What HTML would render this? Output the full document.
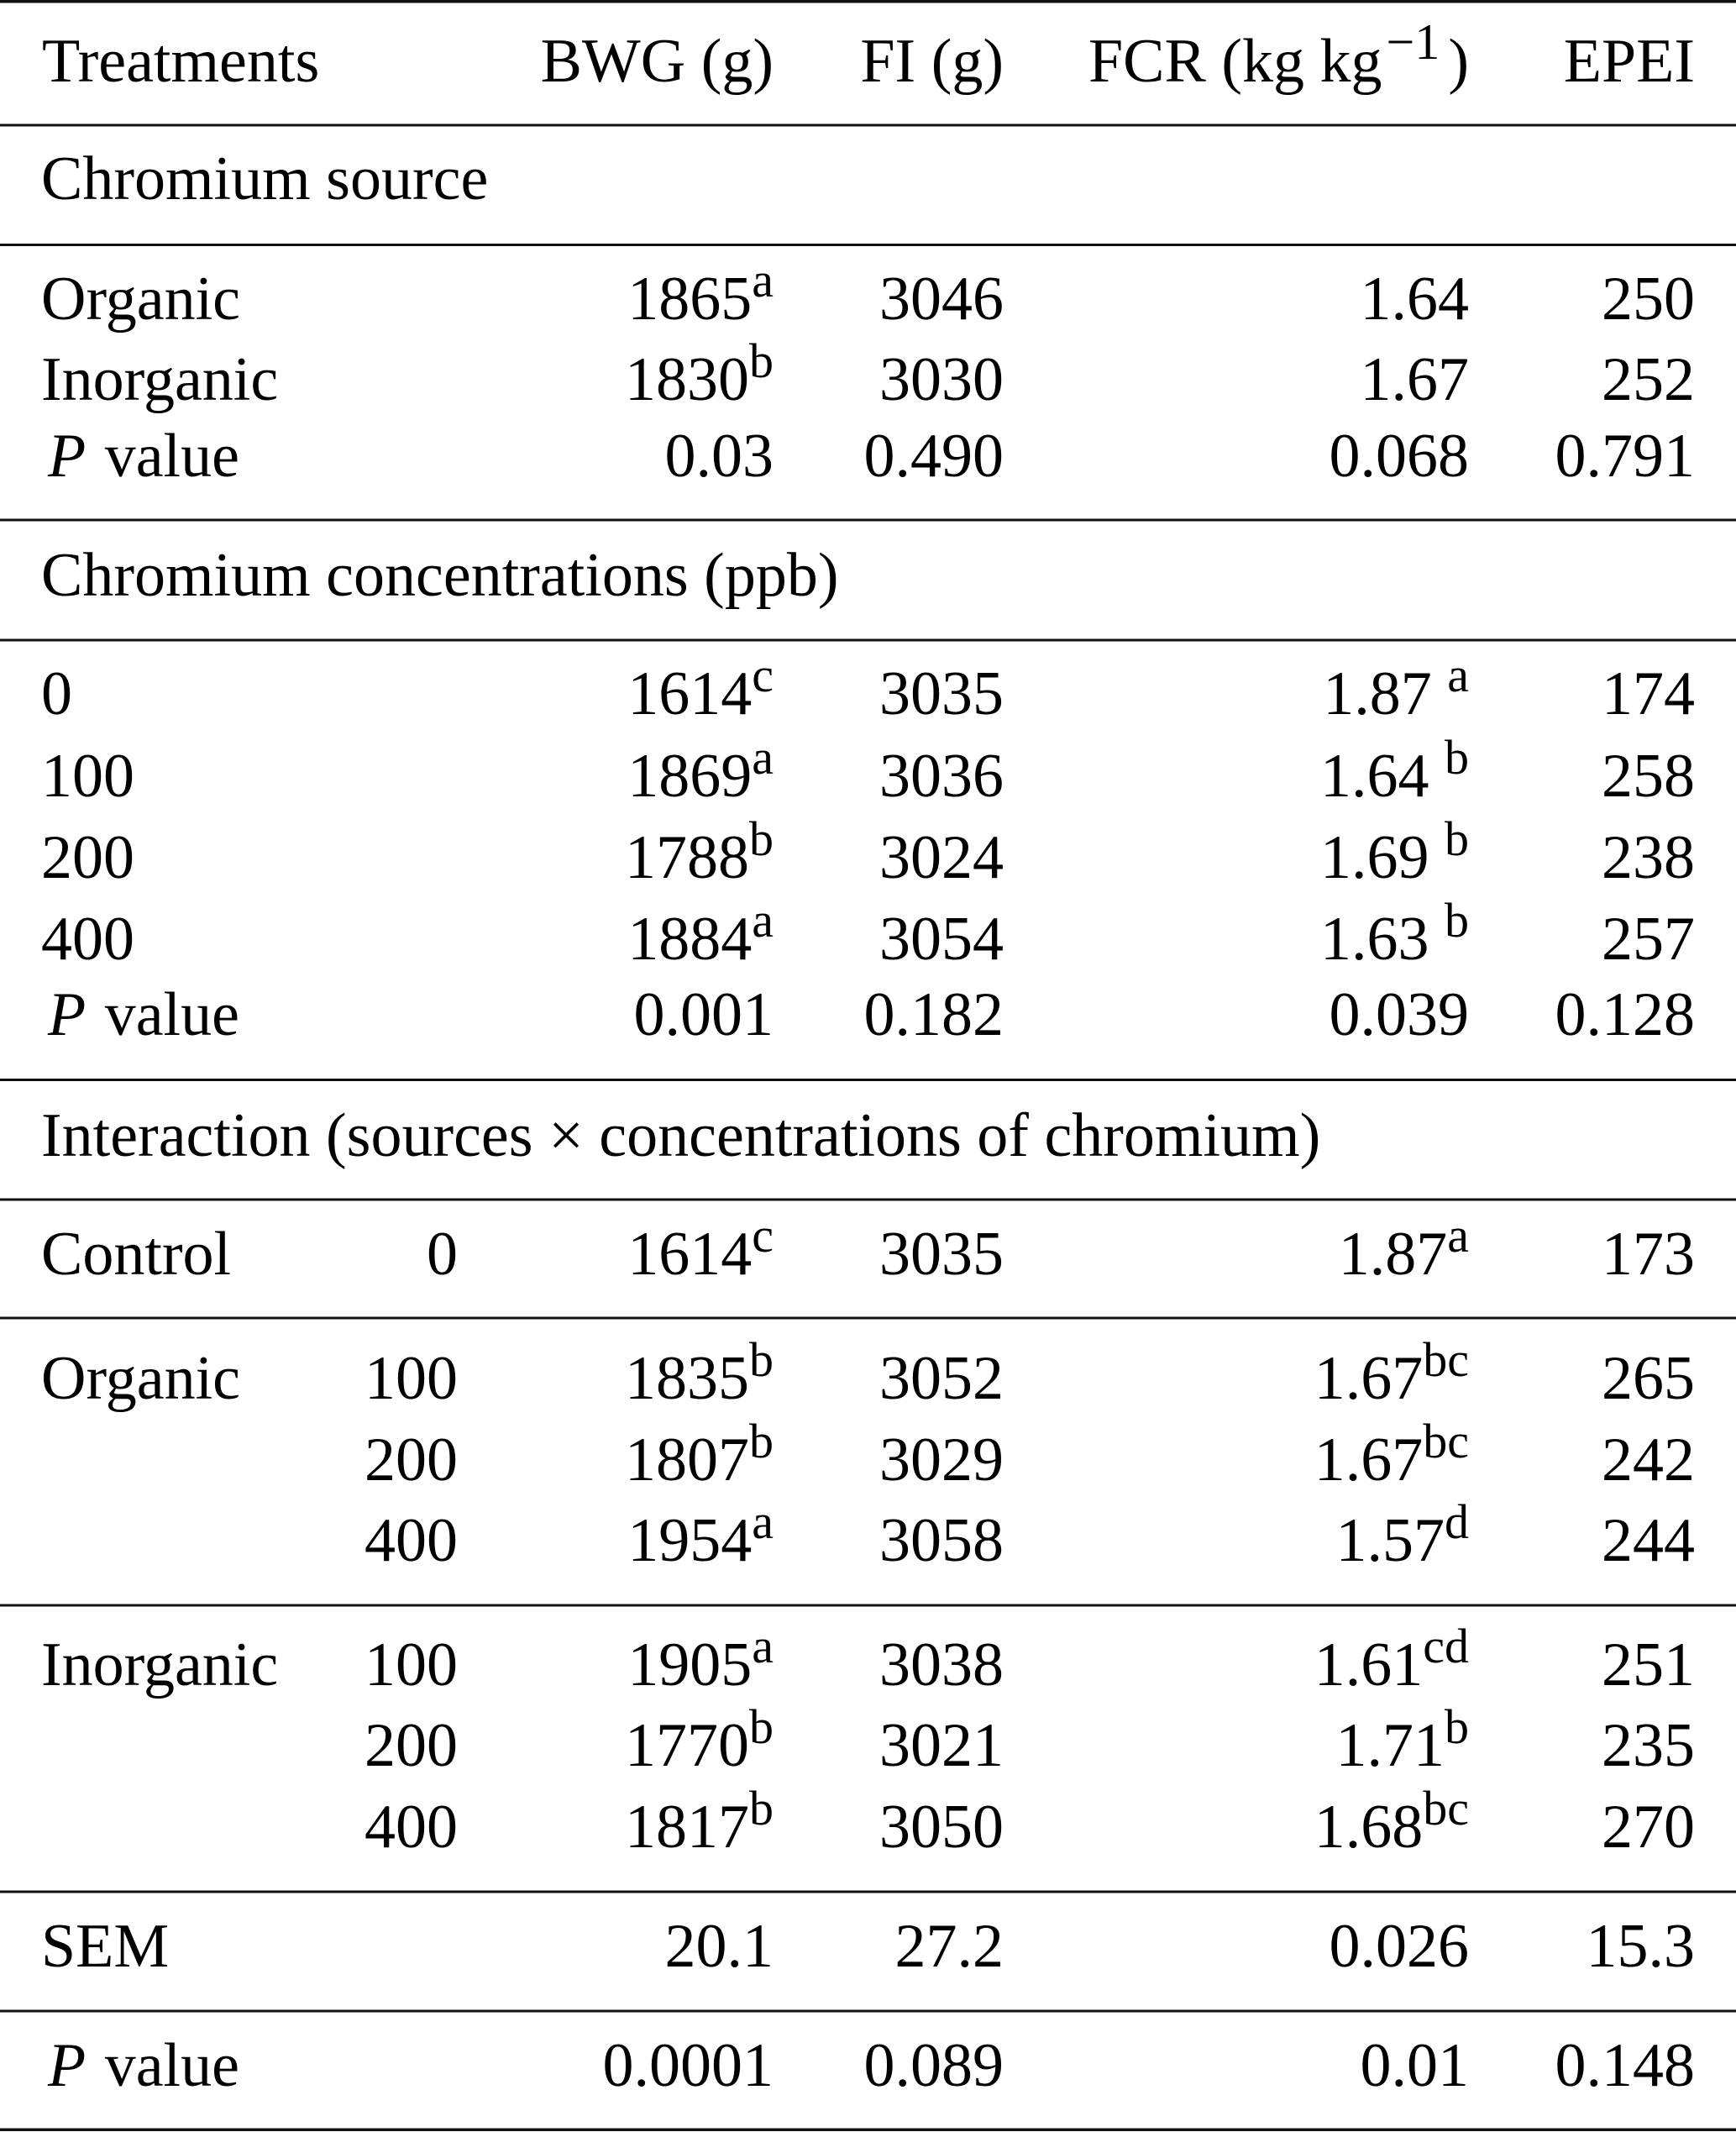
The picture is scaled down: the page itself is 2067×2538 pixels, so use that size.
<!DOCTYPE html>
<html>
<head>
<meta charset="utf-8">
<style>
html,body{margin:0;padding:0;background:#fff;}
svg{display:block;}
text{font-family:"Liberation Serif","Times New Roman",serif;font-size:74px;fill:#000;}
.r{text-anchor:end;}
</style>
</head>
<body>
<svg width="2067" height="2538" viewBox="0 0 2067 2538" xmlns="http://www.w3.org/2000/svg">
<rect x="0" y="0" width="2067" height="2538" fill="#fff"/>
<!-- rules -->
<g fill="#111">
<rect x="0" y="0" width="2067" height="3.5"/>
<rect x="0" y="147.5" width="2067" height="3"/>
<rect x="0" y="290" width="2067" height="3"/>
<rect x="0" y="617.5" width="2067" height="3"/>
<rect x="0" y="760.5" width="2067" height="3"/>
<rect x="0" y="1284" width="2067" height="3"/>
<rect x="0" y="1426.5" width="2067" height="3"/>
<rect x="0" y="1567.5" width="2067" height="3"/>
<rect x="0" y="1909.5" width="2067" height="3"/>
<rect x="0" y="2250.5" width="2067" height="3"/>
<rect x="0" y="2392.5" width="2067" height="3"/>
<rect x="0" y="2533.5" width="2067" height="3.5"/>
</g>

<!-- header -->
<text x="50" y="97">Treatments</text>
<text class="r" x="921" y="97">BWG (g)</text>
<text class="r" x="1195" y="97">FI (g)</text>
<text class="r" x="1749" y="97">FCR (kg kg<tspan dx="5" dy="-27" font-size="60">−1</tspan><tspan dx="10" dy="27" font-size="74">)</tspan></text>
<text class="r" x="2018" y="97">EPEI</text>

<!-- Section 1 -->
<text x="49" y="237">Chromium source</text>

<text x="49" y="380">Organic</text>
<text class="r" x="921" y="380">1865<tspan dy="-27" font-size="58">a</tspan></text>
<text class="r" x="1195" y="380">3046</text>
<text class="r" x="1749" y="380">1.64</text>
<text class="r" x="2018" y="380">250</text>

<text x="49" y="476">Inorganic</text>
<text class="r" x="921" y="476">1830<tspan dy="-27" font-size="58">b</tspan></text>
<text class="r" x="1195" y="476">3030</text>
<text class="r" x="1749" y="476">1.67</text>
<text class="r" x="2018" y="476">252</text>

<text x="57" y="567"><tspan font-style="italic">P</tspan><tspan dx="4"> value</tspan></text>
<text class="r" x="921" y="567">0.03</text>
<text class="r" x="1195" y="567">0.490</text>
<text class="r" x="1749" y="567">0.068</text>
<text class="r" x="2018" y="567">0.791</text>

<!-- Section 2 -->
<text x="49" y="709">Chromium concentrations (ppb)</text>

<text x="49" y="850">0</text>
<text class="r" x="921" y="850">1614<tspan dy="-27" font-size="58">c</tspan></text>
<text class="r" x="1195" y="850">3035</text>
<text class="r" x="1749" y="850">1.87 <tspan dy="-27" font-size="58">a</tspan></text>
<text class="r" x="2018" y="850">174</text>

<text x="49" y="948">100</text>
<text class="r" x="921" y="948">1869<tspan dy="-27" font-size="58">a</tspan></text>
<text class="r" x="1195" y="948">3036</text>
<text class="r" x="1749" y="948">1.64 <tspan dy="-27" font-size="58">b</tspan></text>
<text class="r" x="2018" y="948">258</text>

<text x="49" y="1045">200</text>
<text class="r" x="921" y="1045">1788<tspan dy="-27" font-size="58">b</tspan></text>
<text class="r" x="1195" y="1045">3024</text>
<text class="r" x="1749" y="1045">1.69 <tspan dy="-27" font-size="58">b</tspan></text>
<text class="r" x="2018" y="1045">238</text>

<text x="49" y="1142">400</text>
<text class="r" x="921" y="1142">1884<tspan dy="-27" font-size="58">a</tspan></text>
<text class="r" x="1195" y="1142">3054</text>
<text class="r" x="1749" y="1142">1.63 <tspan dy="-27" font-size="58">b</tspan></text>
<text class="r" x="2018" y="1142">257</text>

<text x="57" y="1232"><tspan font-style="italic">P</tspan><tspan dx="4"> value</tspan></text>
<text class="r" x="921" y="1232">0.001</text>
<text class="r" x="1195" y="1232">0.182</text>
<text class="r" x="1749" y="1232">0.039</text>
<text class="r" x="2018" y="1232">0.128</text>

<!-- Section 3 -->
<text x="49" y="1376">Interaction (sources × concentrations of chromium)</text>

<text x="49" y="1517">Control</text>
<text class="r" x="545" y="1517">0</text>
<text class="r" x="921" y="1517">1614<tspan dy="-27" font-size="58">c</tspan></text>
<text class="r" x="1195" y="1517">3035</text>
<text class="r" x="1749" y="1517">1.87<tspan dy="-27" font-size="58">a</tspan></text>
<text class="r" x="2018" y="1517">173</text>

<text x="49" y="1665">Organic</text>
<text class="r" x="545" y="1665">100</text>
<text class="r" x="921" y="1665">1835<tspan dy="-27" font-size="58">b</tspan></text>
<text class="r" x="1195" y="1665">3052</text>
<text class="r" x="1749" y="1665">1.67<tspan dy="-27" font-size="58">bc</tspan></text>
<text class="r" x="2018" y="1665">265</text>

<text class="r" x="545" y="1762">200</text>
<text class="r" x="921" y="1762">1807<tspan dy="-27" font-size="58">b</tspan></text>
<text class="r" x="1195" y="1762">3029</text>
<text class="r" x="1749" y="1762">1.67<tspan dy="-27" font-size="58">bc</tspan></text>
<text class="r" x="2018" y="1762">242</text>

<text class="r" x="545" y="1858">400</text>
<text class="r" x="921" y="1858">1954<tspan dy="-27" font-size="58">a</tspan></text>
<text class="r" x="1195" y="1858">3058</text>
<text class="r" x="1749" y="1858">1.57<tspan dy="-27" font-size="58">d</tspan></text>
<text class="r" x="2018" y="1858">244</text>

<text x="49" y="2006">Inorganic</text>
<text class="r" x="545" y="2006">100</text>
<text class="r" x="921" y="2006">1905<tspan dy="-27" font-size="58">a</tspan></text>
<text class="r" x="1195" y="2006">3038</text>
<text class="r" x="1749" y="2006">1.61<tspan dy="-27" font-size="58">cd</tspan></text>
<text class="r" x="2018" y="2006">251</text>

<text class="r" x="545" y="2102">200</text>
<text class="r" x="921" y="2102">1770<tspan dy="-27" font-size="58">b</tspan></text>
<text class="r" x="1195" y="2102">3021</text>
<text class="r" x="1749" y="2102">1.71<tspan dy="-27" font-size="58">b</tspan></text>
<text class="r" x="2018" y="2102">235</text>

<text class="r" x="545" y="2199">400</text>
<text class="r" x="921" y="2199">1817<tspan dy="-27" font-size="58">b</tspan></text>
<text class="r" x="1195" y="2199">3050</text>
<text class="r" x="1749" y="2199">1.68<tspan dy="-27" font-size="58">bc</tspan></text>
<text class="r" x="2018" y="2199">270</text>

<text x="49" y="2341">SEM</text>
<text class="r" x="921" y="2341">20.1</text>
<text class="r" x="1195" y="2341">27.2</text>
<text class="r" x="1749" y="2341">0.026</text>
<text class="r" x="2018" y="2341">15.3</text>

<text x="57" y="2483"><tspan font-style="italic">P</tspan><tspan dx="4"> value</tspan></text>
<text class="r" x="921" y="2483">0.0001</text>
<text class="r" x="1195" y="2483">0.089</text>
<text class="r" x="1749" y="2483">0.01</text>
<text class="r" x="2018" y="2483">0.148</text>
</svg>
</body>
</html>
